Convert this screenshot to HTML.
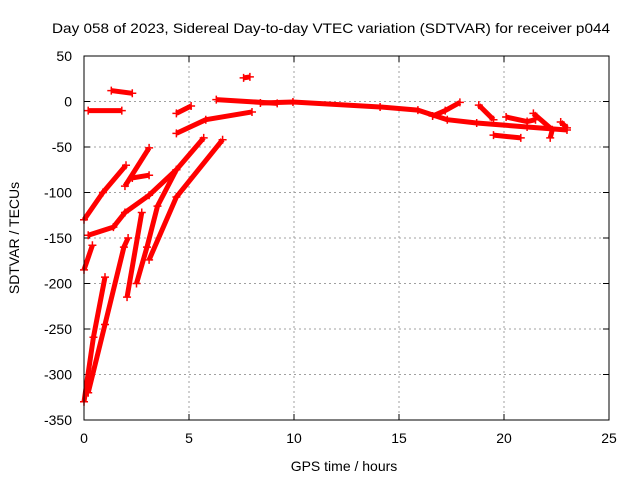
<!DOCTYPE html>
<html><head><meta charset="utf-8"><style>
body{margin:0;background:#fff}
svg{display:block;font-family:"Liberation Sans",sans-serif;font-size:14px}
</style></head><body>
<svg id="chart" width="640" height="480">
<rect width="640" height="480" fill="#fff"/>
<text x="52" y="33" textLength="558" lengthAdjust="spacingAndGlyphs">Day 058 of 2023, Sidereal Day-to-day VTEC variation (SDTVAR) for receiver p044</text>
<text x="344" y="471" text-anchor="middle">GPS time / hours</text>
<text transform="translate(19,238) rotate(-90)" text-anchor="middle">SDTVAR / TECUs</text>
<g id="grid"></g><g id="ticks"></g><g id="series"></g>
<rect x="84" y="56" width="525" height="364" fill="none" stroke="#000" stroke-width="1"/>
</svg>
<script>
const xTicks=[0,5,10,15,20,25];
const yTicks=[50,0,-50,-100,-150,-200,-250,-300,-350];
const segA=[[0,-130],[0.9,-100],[2,-70]];
const segB=[[0.2,-147],[1.4,-138],[1.95,-122],[3.1,-103],[4.4,-75],[5.7,-40]];
const segC=[[0,-185],[0.4,-158]];
const segD=[[0,-330],[0.45,-259],[1,-193]];
const segE=[[0.2,-320],[1,-245],[1.9,-160],[2.1,-150]];
const segF=[[2.05,-215],[2.75,-122]];
const segG=[[3.1,-174],[4.4,-105],[6.6,-42]];
const segG2=[[2.5,-200],[3,-160],[3.5,-115],[4.4,-75]];
const segH=[[1.95,-93],[3.1,-51]];
const segH2=[[2.3,-84],[3.1,-81]];
const segT1=[[1.3,12],[2.3,9]];
const segT2=[[0.2,-10],[1.8,-10]];
const segT3=[[4.4,-13],[5.1,-5]];
const segT4=[[4.4,-35],[5.8,-20],[8,-11.5]];
const segT5=[[6.3,2],[9.2,-2]];
const segT6=[[7.6,26],[7.9,27]];
const segMain=[[8.4,-1.6],[9.95,-0.5],[14.1,-6],[15.9,-9.5],[17.3,-20],[18.7,-23.6],[21.1,-28],[23,-31.3]];
const segR1=[[16.6,-16],[17.2,-10],[17.9,-1]];
const segR2=[[18.8,-4],[19.5,-20]];
const segR3=[[19.5,-37],[20.8,-40]];
const segR4=[[20.1,-17],[21.1,-22],[21.5,-20]];
const segR5=[[21.4,-13],[22.3,-31],[22.2,-40]];
const segR6=[[22.7,-22.5],[23,-29]];
const allSegs=[segA,segB,segC,segD,segE,segF,segG,segG2,segH,segH2,segT1,segT2,segT3,segT4,segT5,segT6,segMain,segR1,segR2,segR3,segR4,segR5,segR6];

const NS="http://www.w3.org/2000/svg";
const X0=84,X1=609,Y0=420,Y1=56,xmin=0,xmax=25,ymin=-350,ymax=50;
const sx=v=>X0+(v-xmin)/(xmax-xmin)*(X1-X0);
const sy=v=>Y0-(v-ymin)/(ymax-ymin)*(Y0-Y1);
const grid=document.getElementById('grid'),ticks=document.getElementById('ticks'),ser=document.getElementById('series');
function mk(t,a,p){const e=document.createElementNS(NS,t);for(const k in a)e.setAttribute(k,a[k]);p.appendChild(e);return e;}
xTicks.forEach(v=>{
  const x=sx(v);
  if(v>xmin&&v<xmax){const g=mk('line',{x1:x,x2:x,y1:Y1,y2:Y0,stroke:'#a0a0a0','stroke-dasharray':'2,3'},grid);
  
  }
  mk('line',{x1:x,x2:x,y1:Y0,y2:Y0-6,stroke:'#000'},ticks);
  mk('line',{x1:x,x2:x,y1:Y1,y2:Y1+6,stroke:'#000'},ticks);
  const t=mk('text',{x:x,y:443,'text-anchor':'middle'},ticks);t.textContent=v;
  
  
});
yTicks.forEach(v=>{
  const y=sy(v);
  if(v>ymin&&v<ymax){const g=mk('line',{x1:X0,x2:X1,y1:y,y2:y,stroke:'#a0a0a0','stroke-dasharray':'2,3'},grid);
  
  }
  mk('line',{x1:X0,x2:X0+6,y1:y,y2:y,stroke:'#000'},ticks);
  mk('line',{x1:X1,x2:X1-6,y1:y,y2:y,stroke:'#000'},ticks);
  const t=mk('text',{x:72,y:y+5,'text-anchor':'end'},ticks);t.textContent=v;
  
  
});
allSegs.forEach(s=>{
  const pts=s.map(p=>sx(p[0])+','+sy(p[1])).join(' ');
  const pl=mk('polyline',{points:pts,fill:'none',stroke:'#ff0000','stroke-width':5,'stroke-linejoin':'round','stroke-linecap':'butt'},ser);
  
  
  s.forEach(p=>{
    const x=sx(p[0]),y=sy(p[1]);
    const m=mk('path',{d:`M${x-4},${y}H${x+4}M${x},${y-4}V${y+4}`,stroke:'#ff0000','stroke-width':1.5},ser);
    
    
  });
});
</script>
</body></html>
